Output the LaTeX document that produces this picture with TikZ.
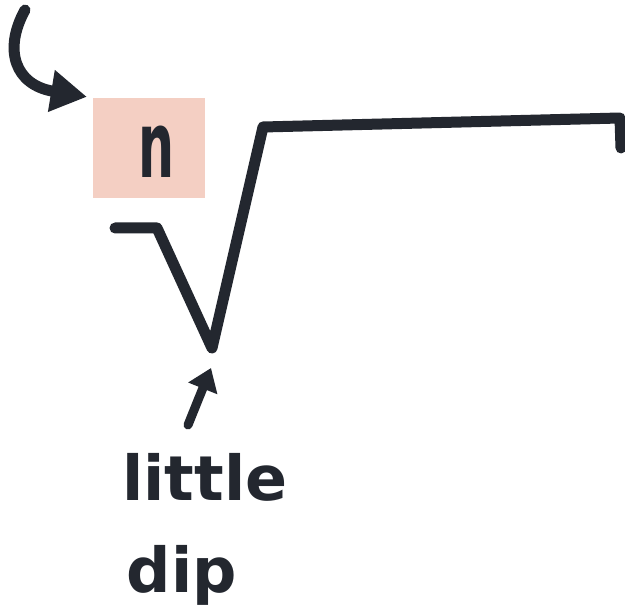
\documentclass[tikz,border=0pt]{standalone}
\usepackage{fontspec}
\setmainfont{DejaVu Sans}
\usetikzlibrary{arrows.meta}
\definecolor{ink}{HTML}{23272F}
\definecolor{pinkbox}{HTML}{F4CFC3}
\tikzset{
  marker/.style={draw=ink, line width=11pt, line cap=round, line join=round},
  hand/.style={text=ink, font=\bfseries\fontsize{62}{62}\selectfont, inner sep=0pt},
  pinkcell/.style={fill=pinkbox, minimum width=112pt, minimum height=100pt, inner sep=0pt,
     text=ink, font=\bfseries\fontsize{92}{92}\selectfont},
}
\begin{document}
\begin{tikzpicture}[x=1pt,y=-1pt]
  \useasboundingbox (0,0) rectangle (625,615);
  \fill[white] (0,0) rectangle (625,615);
  % pink box with n
  \node[pinkcell] (box) at (149,148) {\raisebox{-30pt}[0pt][0pt]{\makebox[0pt]{\hspace*{16pt}\scalebox{0.55}[1]{n}}}};
  % curved arrow
  \coordinate (cstart) at (25,10);
  \draw[marker, shorten >=6pt, -{Triangle[length=36pt,width=40pt]}] (cstart) .. controls (3,50) and (15,85) .. (box.north west);
  % radical
  \coordinate (r0) at (115,228);
  \coordinate (r1) at (157,228);
  \coordinate (dip) at (212,348);
  \coordinate (r3) at (263,127);
  \coordinate (r4) at (620,118);
  \coordinate (r5) at (621,148);
  \draw[marker] (r0) -- (r1) -- (dip) -- (r3) -- (r4) -- (r5);
  % labels
  \node[hand, anchor=base] (little) at (205,500) {little};
  \node[hand, anchor=base] (dipt) at (182,592) {dip};
  % up arrow
  \coordinate (ustart) at (188,425);
  \coordinate (utip) at (211,368);
  \draw[marker, line width=9pt, -{Triangle[length=22pt,width=30pt]}] (ustart) -- (utip);
\end{tikzpicture}
\end{document}
